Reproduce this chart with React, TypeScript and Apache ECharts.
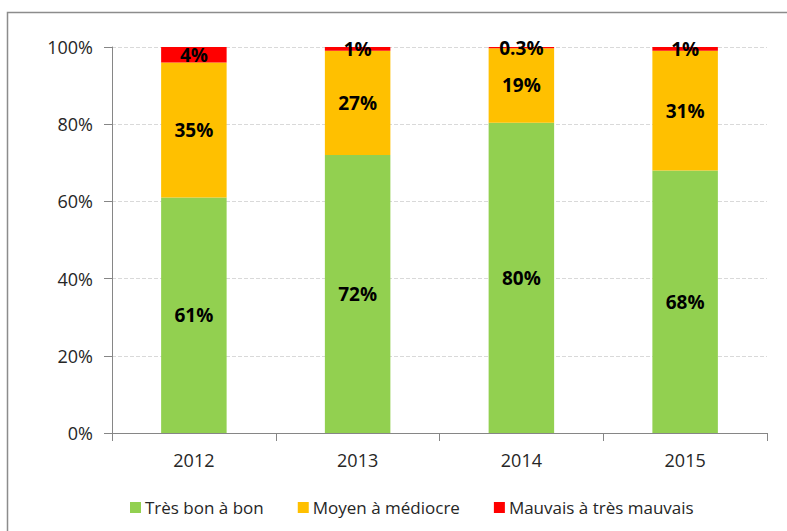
import React, { useEffect, useRef } from "react";
import * as echarts from "echarts";

const years = ["2012", "2013", "2014", "2015"];
const tresBon = [61, 72, 80.4, 68];
const moyen = [35, 27, 19.3, 31];
const mauvais = [4, 1, 0.3, 1];
const seriesNames = ["Très bon à bon", "Moyen à médiocre", "Mauvais à très mauvais"];
const colors = ["#92d050", "#ffc000", "#ff0000"];

const FONT = "'Open Sans', 'Liberation Sans', sans-serif";

export default function App() {
  const ref = useRef<HTMLDivElement>(null);
  useEffect(() => {
    if (!ref.current) return;
    const chart = echarts.init(ref.current, undefined, { renderer: "svg" });
    const fmt = (p: any) => {
      const v = p.value as number;
      return (v < 1 ? v.toFixed(1) : String(Math.round(v))) + "%";
    };
    const mk = (name: string, data: number[], color: string) => ({
      name,
      type: "bar",
      stack: "total",
      data,
      barWidth: "40%",
      itemStyle: { color },
      label: {
        show: true,
        position: "inside",
        formatter: fmt,
        color: "#000",
        fontWeight: "bold",
        fontSize: 19,
        fontFamily: FONT,
      },
    });
    chart.setOption({
      animation: false,
      graphic: [
        {
          type: "rect",
          shape: { x: 7.5, y: 12.5, width: 820, height: 560 },
          style: { fill: "none", stroke: "#8c8c8c", lineWidth: 1.5 },
          silent: true,
        },
      ],
      grid: { left: 112, right: 20, top: 47, bottom: 98 },
      legend: {
        bottom: 10,
        left: 125,
        itemWidth: 11,
        itemHeight: 11,
        itemGap: 34,
        icon: "rect",
        textStyle: { fontSize: 17, color: "#262626", fontFamily: FONT, padding: [0, 0, 0, -1] },
        data: seriesNames,
      },
      xAxis: {
        type: "category",
        data: years,
        axisLine: { lineStyle: { color: "#868686" } },
        axisTick: { show: true, alignWithLabel: false, length: 8, lineStyle: { color: "#868686" } },
        axisLabel: { fontSize: 18, color: "#262626", margin: 18, fontFamily: FONT },
      },
      yAxis: {
        type: "value",
        min: 0,
        max: 100,
        interval: 20,
        axisLine: { show: true, lineStyle: { color: "#868686" } },
        axisTick: { show: true, length: 8, lineStyle: { color: "#868686" } },
        axisLabel: { formatter: "{value}%", fontSize: 18, color: "#262626", margin: 19, fontFamily: FONT },
        splitLine: { lineStyle: { type: "dashed", color: "#d9d9d9" } },
      },
      series: [
        mk(seriesNames[0], tresBon, colors[0]),
        mk(seriesNames[1], moyen, colors[1]),
        mk(seriesNames[2], mauvais, colors[2]),
      ],
    });
    return () => chart.dispose();
  }, []);
  return (
    <div
      ref={ref}
      style={{ position: "fixed", left: 0, top: 0, width: 787, height: 531, background: "#fff" }}
    />
  );
}
